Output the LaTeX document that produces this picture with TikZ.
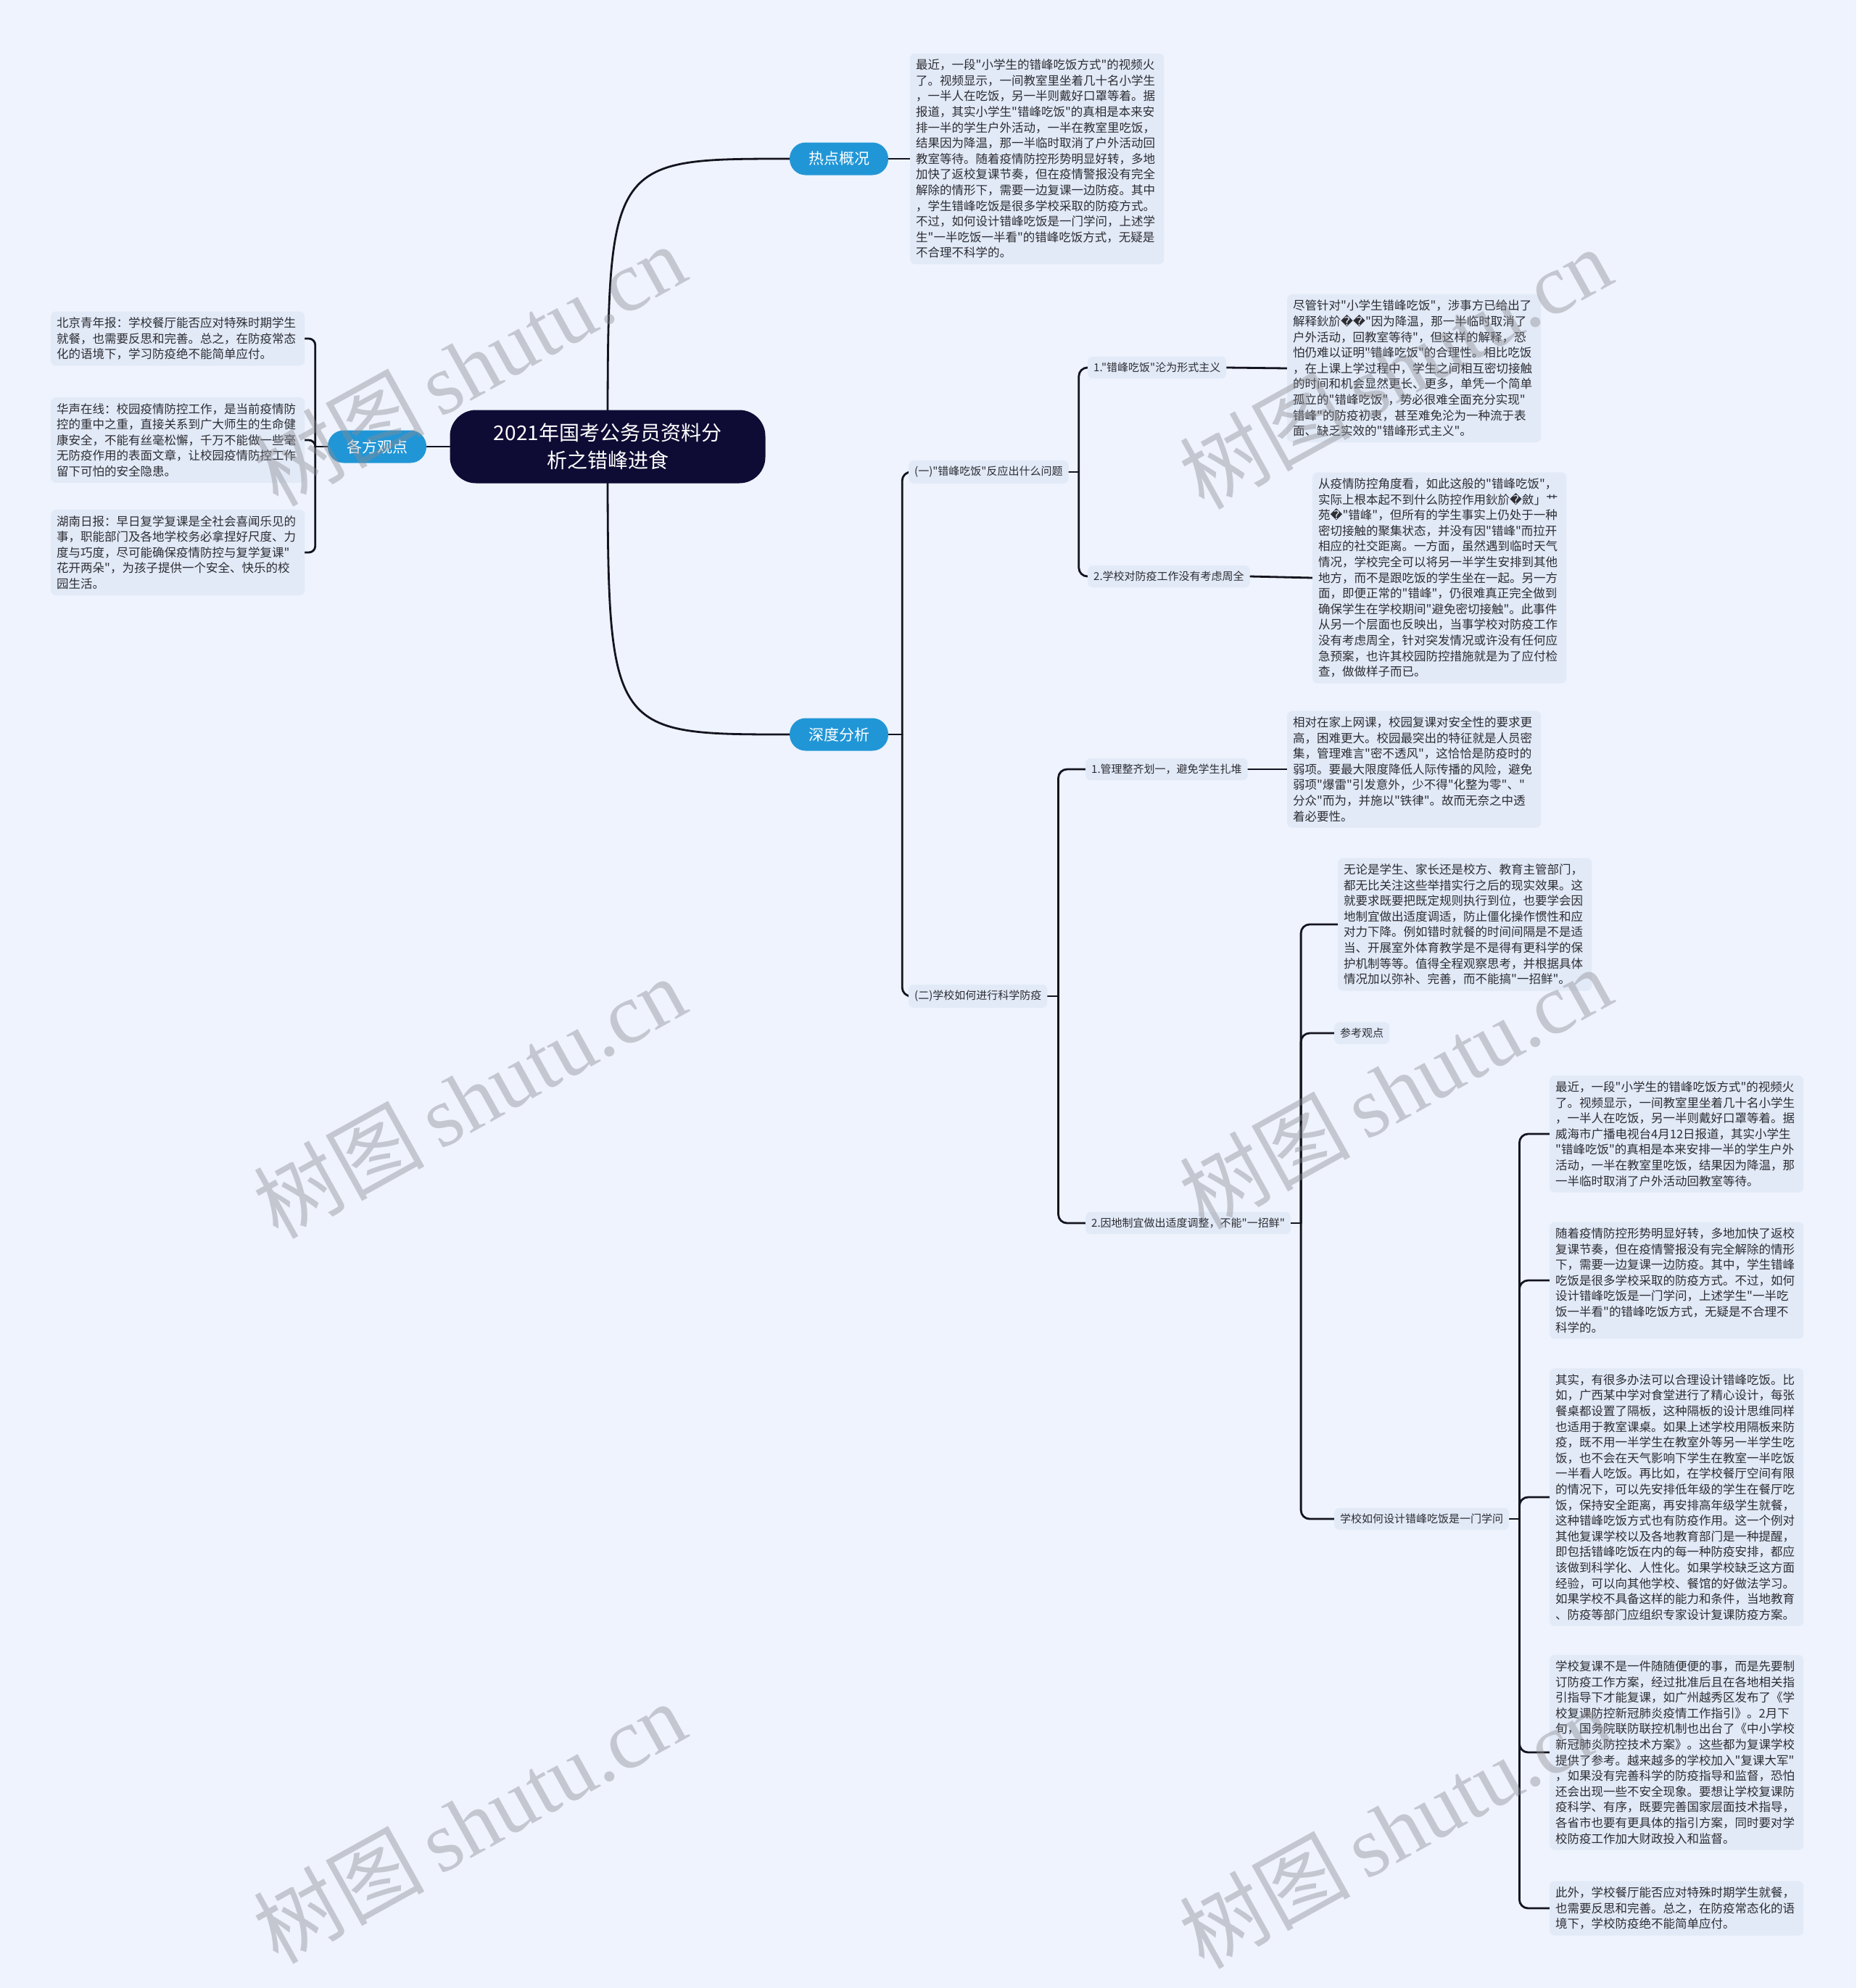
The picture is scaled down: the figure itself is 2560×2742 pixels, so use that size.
\documentclass[tikz,border=0pt]{standalone}
\usepackage{fontspec}
\setmainfont{Noto Sans CJK SC}[Ligatures=TeXOff]
\newfontfamily\dejavu{DejaVu Sans}
\newfontfamily\wmserif{Liberation Serif}
\usetikzlibrary{backgrounds,calc}
\definecolor{bgc}{RGB}{238,243,253}
\definecolor{blkc}{RGB}{226,234,248}
\definecolor{lblc}{RGB}{226,234,248}
\definecolor{txtc}{RGB}{45,45,50}
\definecolor{pillc}{RGB}{33,150,214}
\definecolor{rootc}{RGB}{14,12,52}
\definecolor{linec}{RGB}{20,20,30}
\definecolor{wmc}{RGB}{140,140,145}
\newcommand{\qq}{{\dejavu ��}}
\newcommand{\q}{{\dejavu �}}
\tikzset{
  blockbox/.style={fill=blkc, rounded corners=7pt, inner xsep=8pt, inner ysep=8pt,
    text width=334pt, align=left, text=txtc, anchor=west,
    font=\fontsize{16.5}{21.6}\selectfont},
  lblbox/.style={fill=lblc, rounded corners=7pt, inner xsep=8pt, inner ysep=8pt,
    text=txtc, anchor=west, font=\fontsize{15}{18}\selectfont},
  pillbox/.style={fill=pillc, rounded corners=22pt, text=white, minimum width=136pt,
    minimum height=45pt, inner sep=0pt, font=\fontsize{21}{24}\selectfont},
  rootbox/.style={fill=rootc, rounded corners=36pt, text=white, minimum width=435pt,
    minimum height=101pt, inner sep=0pt, align=center, font=\fontsize{28}{38}\selectfont},
  conn/.style={draw=linec, line width=2.8pt, rounded corners=12pt, line cap=round},
  wmark/.style={text=wmc, text opacity=0.42, rotate=29, inner sep=0pt}
}
\begin{document}
\begin{tikzpicture}[x=1pt,y=-1pt]
\useasboundingbox (0,0) rectangle (2560,2742);

% ---------- nodes ----------
\node[rootbox] (root) at (838,616) {2021年国考公务员资料分\\析之错峰进食};
\node[pillbox] (hot) at (1157,219) {热点概况};
\node[pillbox] (sd) at (1157,1013) {深度分析};
\node[pillbox] (gf) at (520,616) {各方观点};

\node[blockbox] (b1) at (1255,219) {最近，一段"小学生的错峰吃饭方式"的视频火\\了。视频显示，一间教室里坐着几十名小学生\\，一半人在吃饭，另一半则戴好口罩等着。据\\报道，其实小学生"错峰吃饭"的真相是本来安\\排一半的学生户外活动，一半在教室里吃饭，\\结果因为降温，那一半临时取消了户外活动回\\教室等待。随着疫情防控形势明显好转，多地\\加快了返校复课节奏，但在疫情警报没有完全\\解除的情形下，需要一边复课一边防疫。其中\\，学生错峰吃饭是很多学校采取的防疫方式。\\不过，如何设计错峰吃饭是一门学问，上述学\\生"一半吃饭一半看"的错峰吃饭方式，无疑是\\不合理不科学的。};

\node[blockbox] (la) at (70,467) {北京青年报：学校餐厅能否应对特殊时期学生\\就餐，也需要反思和完善。总之，在防疫常态\\化的语境下，学习防疫绝不能简单应付。};
\node[blockbox] (lb) at (70,607) {华声在线：校园疫情防控工作，是当前疫情防\\控的重中之重，直接关系到广大师生的生命健\\康安全，不能有丝毫松懈，千万不能做一些毫\\无防疫作用的表面文章，让校园疫情防控工作\\留下可怕的安全隐患。};
\node[blockbox] (lc) at (70,762) {湖南日报：早日复学复课是全社会喜闻乐见的\\事，职能部门及各地学校务必拿捏好尺度、力\\度与巧度，尽可能确保疫情防控与复学复课"\\花开两朵"，为孩子提供一个安全、快乐的校\\园生活。};

\node[lblbox] (y1) at (1253,651) {(一)"错峰吃饭"反应出什么问题};
\node[lblbox] (y2) at (1253,1374) {(二)学校如何进行科学防疫};
\node[lblbox] (a1) at (1500,507) {1."错峰吃饭"沦为形式主义};
\node[lblbox] (a2) at (1500,795) {2.学校对防疫工作没有考虑周全};

\node[blockbox] (b3) at (1775,508) {尽管针对"小学生错峰吃饭"，涉事方已给出了\\解释鈥斺\qq"因为降温，那一半临时取消了\\户外活动，回教室等待"，但这样的解释，恐\\怕仍难以证明"错峰吃饭"的合理性。相比吃饭\\，在上课上学过程中，学生之间相互密切接触\\的时间和机会显然更长、更多，单凭一个简单\\孤立的"错峰吃饭"，势必很难全面充分实现"\\错峰"的防疫初衷，甚至难免沦为一种流于表\\面、缺乏实效的"错峰形式主义"。};
\node[blockbox] (b4) at (1810,797) {从疫情防控角度看，如此这般的"错峰吃饭"，\\实际上根本起不到什么防控作用鈥斺\q 斂」艹\\苑\q"错峰"，但所有的学生事实上仍处于一种\\密切接触的聚集状态，并没有因"错峰"而拉开\\相应的社交距离。一方面，虽然遇到临时天气\\情况，学校完全可以将另一半学生安排到其他\\地方，而不是跟吃饭的学生坐在一起。另一方\\面，即便正常的"错峰"，仍很难真正完全做到\\确保学生在学校期间"避免密切接触"。此事件\\从另一个层面也反映出，当事学校对防疫工作\\没有考虑周全，针对突发情况或许没有任何应\\急预案，也许其校园防控措施就是为了应付检\\查，做做样子而已。};

\node[lblbox] (c1) at (1497,1061) {1.管理整齐划一，避免学生扎堆};
\node[lblbox] (c2) at (1497,1687) {2.因地制宜做出适度调整，不能"一招鲜"};

\node[blockbox] (b5) at (1775,1061) {相对在家上网课，校园复课对安全性的要求更\\高，困难更大。校园最突出的特征就是人员密\\集，管理难言"密不透风"，这恰恰是防疫时的\\弱项。要最大限度降低人际传播的风险，避免\\弱项"爆雷"引发意外，少不得"化整为零"、"\\分众"而为，并施以"铁律"。故而无奈之中透\\着必要性。};
\node[blockbox] (b6) at (1845,1275) {无论是学生、家长还是校方、教育主管部门，\\都无比关注这些举措实行之后的现实效果。这\\就要求既要把既定规则执行到位，也要学会因\\地制宜做出适度调适，防止僵化操作惯性和应\\对力下降。例如错时就餐的时间间隔是不是适\\当、开展室外体育教学是不是得有更科学的保\\护机制等等。值得全程观察思考，并根据具体\\情况加以弥补、完善，而不能搞"一招鲜"。};
\node[lblbox] (ck) at (1840,1425) {参考观点};
\node[lblbox] (xq) at (1840,2095) {学校如何设计错峰吃饭是一门学问};

\node[blockbox] (b7) at (2137,1564) {最近，一段"小学生的错峰吃饭方式"的视频火\\了。视频显示，一间教室里坐着几十名小学生\\，一半人在吃饭，另一半则戴好口罩等着。据\\威海市广播电视台4月12日报道，其实小学生\\"错峰吃饭"的真相是本来安排一半的学生户外\\活动，一半在教室里吃饭，结果因为降温，那\\一半临时取消了户外活动回教室等待。};
\node[blockbox] (b8) at (2137,1766) {随着疫情防控形势明显好转，多地加快了返校\\复课节奏，但在疫情警报没有完全解除的情形\\下，需要一边复课一边防疫。其中，学生错峰\\吃饭是很多学校采取的防疫方式。不过，如何\\设计错峰吃饭是一门学问，上述学生"一半吃\\饭一半看"的错峰吃饭方式，无疑是不合理不\\科学的。};
\node[blockbox] (b9) at (2137,2065) {其实，有很多办法可以合理设计错峰吃饭。比\\如，广西某中学对食堂进行了精心设计，每张\\餐桌都设置了隔板，这种隔板的设计思维同样\\也适用于教室课桌。如果上述学校用隔板来防\\疫，既不用一半学生在教室外等另一半学生吃\\饭，也不会在天气影响下学生在教室一半吃饭\\一半看人吃饭。再比如，在学校餐厅空间有限\\的情况下，可以先安排低年级的学生在餐厅吃\\饭，保持安全距离，再安排高年级学生就餐，\\这种错峰吃饭方式也有防疫作用。这一个例对\\其他复课学校以及各地教育部门是一种提醒，\\即包括错峰吃饭在内的每一种防疫安排，都应\\该做到科学化、人性化。如果学校缺乏这方面\\经验，可以向其他学校、餐馆的好做法学习。\\如果学校不具备这样的能力和条件，当地教育\\、防疫等部门应组织专家设计复课防疫方案。};
\node[blockbox] (b10) at (2137,2417) {学校复课不是一件随随便便的事，而是先要制\\订防疫工作方案，经过批准后且在各地相关指\\引指导下才能复课，如广州越秀区发布了《学\\校复课防控新冠肺炎疫情工作指引》。2月下\\旬，国务院联防联控机制也出台了《中小学校\\新冠肺炎防控技术方案》。这些都为复课学校\\提供了参考。越来越多的学校加入"复课大军"\\，如果没有完善科学的防疫指导和监督，恐怕\\还会出现一些不安全现象。要想让学校复课防\\疫科学、有序，既要完善国家层面技术指导，\\各省市也要有更具体的指引方案，同时要对学\\校防疫工作加大财政投入和监督。};
\node[blockbox] (b11) at (2137,2632) {此外，学校餐厅能否应对特殊时期学生就餐，\\也需要反思和完善。总之，在防疫常态化的语\\境下，学校防疫绝不能简单应付。};

% ---------- background and connectors ----------
\begin{scope}[on background layer]
\fill[bgc] (0,0) rectangle (2560,2742);
\draw[conn] (root.center) .. controls (root.center |- hot.west) and (root.center |- hot.west) .. (hot.west);
\draw[conn] (root.center) .. controls (root.center |- sd.west) and (root.center |- sd.west) .. (sd.west);
\draw[conn] (root.west) -- (gf.east);
\draw[conn] (hot.east) -- (b1.west);

\draw[conn] (gf.west) -- ++(-17,0) coordinate (sg);
\draw[conn, rounded corners=9pt] (sg) |- (la.east);
\draw[conn, rounded corners=9pt] (sg) |- (lb.east);
\draw[conn, rounded corners=9pt] (sg) |- (lc.east);

\draw[conn] (sd.east) -- ++(19,0) coordinate (s1);
\draw[conn] (s1) |- (y1.west);
\draw[conn] (s1) |- (y2.west);

\draw[conn] (y1.east) -- ++(14,0) coordinate (s2);
\draw[conn] (s2) |- (a1.west);
\draw[conn] (s2) |- (a2.west);
\draw[conn] (a1.east) -- (b3.west);
\draw[conn] (a2.east) -- (b4.west);

\draw[conn] (y2.east) -- ++(15,0) coordinate (s3);
\draw[conn] (s3) |- (c1.west);
\draw[conn] (s3) |- (c2.west);
\draw[conn] (c1.east) -- (b5.west);

\draw[conn] (c2.east) -- ++(14,0) coordinate (s4);
\draw[conn] (s4) |- (b6.west);
\draw[conn] (s4) |- (ck.west);
\draw[conn] (s4) |- (xq.west);

\draw[conn] (xq.east) -- ++(14,0) coordinate (s5);
\draw[conn] (s5) |- (b7.west);
\draw[conn] (s5) |- (b8.west);
\draw[conn] (s5) |- (b9.west);
\draw[conn] (s5) |- (b10.west);
\draw[conn] (s5) |- (b11.west);
\end{scope}

% ---------- watermarks ----------
\foreach \wx/\wy [count=\i] in {647/503, 1924/507, 647/1513, 1924/1500, 647/2513, 1924/2520}{
  \node[wmark] (wm\i) at (\wx,\wy) {\fontsize{118}{118}\selectfont 树图\,{\wmserif shutu.cn}};
}
\end{tikzpicture}
\end{document}
